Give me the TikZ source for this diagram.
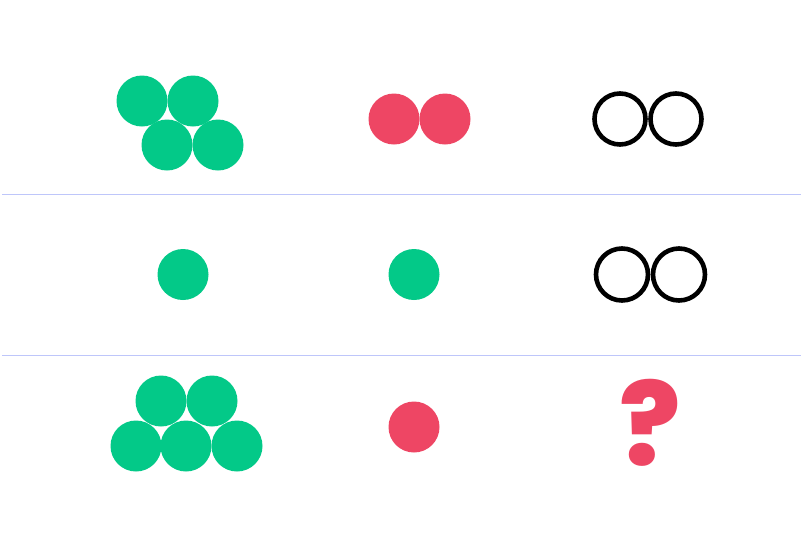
\documentclass[tikz,border=0pt]{standalone}
\usepackage{fontspec}
\usepackage{tikz}
\newfontfamily\qfont{Poppins}[UprightFont=* ExtraBold]
\definecolor{dotgreen}{RGB}{3,201,136}
\definecolor{dotred}{RGB}{238,70,100}
\definecolor{sepblue}{RGB}{190,198,250}
\tikzset{
  gdot/.style  = {fill=dotgreen},
  rdot/.style  = {fill=dotred},
  ring/.style  = {draw=black, line width=4.6pt},
  sep/.style   = {draw=sepblue, line width=1.6pt},
}
\begin{document}
\begin{tikzpicture}[x=1pt, y=-1pt]
  \useasboundingbox (0,0) rectangle (801,550);

  % separadores
  \draw[sep] (2,194.5) -- (801,194.5);
  \draw[sep] (2,355.5) -- (801,355.5);

  % fila 1
  \foreach \x/\y in {142/101, 193/101, 167/145, 218/145}
    \fill[gdot] (\x,\y) circle (25.5);
  \foreach \x in {394, 445}
    \fill[rdot] (\x,119) circle (25.5);
  \foreach \x in {620, 676}
    \draw[ring] (\x,119) circle (25.5);

  % fila 2
  \fill[gdot] (183,274.5) circle (25.5);
  \fill[gdot] (414,274.5) circle (25.5);
  \foreach \x in {622, 679}
    \draw[ring] (\x,274.5) circle (26);

  % fila 3
  \foreach \x/\y in {161/401, 212/401, 136/446, 186/446, 237/446}
    \fill[gdot] (\x,\y) circle (25.5);
  \fill[rdot] (414,427) circle (25.5);
  \node[text=dotred, inner sep=0pt, font=\qfont\fontsize{114}{114}\selectfont]
    (q) at (650,423) {?};
\end{tikzpicture}
\end{document}
